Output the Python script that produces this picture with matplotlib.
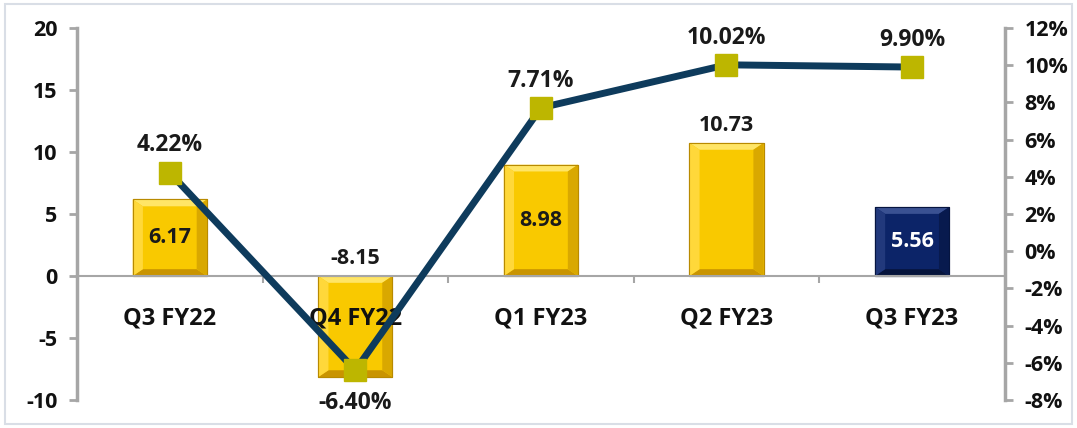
import matplotlib
matplotlib.use('Agg')
import matplotlib.pyplot as plt
from matplotlib.patches import Rectangle, Polygon

plt.rcParams['font.family'] = ['Open Sans', 'DejaVu Sans']
plt.rcParams['font.weight'] = 'bold'
plt.rcParams['axes.unicode_minus'] = False

# data
quarters = ['Q3 FY22', 'Q4 FY22', 'Q1 FY23', 'Q2 FY23', 'Q3 FY23']
profit = [6.17, -8.15, 8.98, 10.73, 5.56]
margin = [4.22, -6.40, 7.71, 10.02, 9.90]
bar_kind = ['gold', 'gold', 'gold', 'gold', 'navy']
left_ticks = [-10, -5, 0, 5, 10, 15, 20]
right_ticks = [-8, -6, -4, -2, 0, 2, 4, 6, 8, 10, 12]

GOLD = dict(face='#F9C900', top='#FFE566', left='#FFD83A', right='#D9A800', bottom='#C99400', edge='#B88A00')
NAVY = dict(face='#0C2468', top='#3A5192', left='#22397C', right='#081A4E', bottom='#06143C', edge='#061540')

fig = plt.figure(figsize=(10.77, 4.28), dpi=100)
ax = fig.add_axes([0.0715, 0.0654, 0.8615, 0.8692])
ax2 = ax.twinx()

x = list(range(len(quarters)))
w = 0.40
dx = 0.055   # bevel width in x units
dy = 0.55    # bevel height in y units

for xi, v, kind in zip(x, profit, bar_kind):
    c = GOLD if kind == 'gold' else NAVY
    x0, x1 = xi - w / 2, xi + w / 2
    y0, y1 = min(0, v), max(0, v)
    ax.add_patch(Rectangle((x0, y0), w, y1 - y0, facecolor=c['face'], edgecolor=c['edge'], lw=0.8, zorder=2))
    # bevel
    ax.add_patch(Polygon([(x0, y1), (x1, y1), (x1 - dx, y1 - dy), (x0 + dx, y1 - dy)], facecolor=c['top'], lw=0, zorder=2))
    ax.add_patch(Polygon([(x0, y0), (x1, y0), (x1 - dx, y0 + dy), (x0 + dx, y0 + dy)], facecolor=c['bottom'], lw=0, zorder=2))
    ax.add_patch(Polygon([(x0, y0), (x0, y1), (x0 + dx, y1 - dy), (x0 + dx, y0 + dy)], facecolor=c['left'], lw=0, zorder=2))
    ax.add_patch(Polygon([(x1, y0), (x1, y1), (x1 - dx, y1 - dy), (x1 - dx, y0 + dy)], facecolor=c['right'], lw=0, zorder=2))
    ax.add_patch(Rectangle((x0, y0), w, y1 - y0, facecolor='none', edgecolor=c['edge'], lw=0.8, zorder=2))

# bar labels
lbl = dict(fontsize=15.5, fontweight='bold', zorder=3)
for xi, v, kind in zip(x, profit, bar_kind):
    if kind == 'navy':
        ax.text(xi, v / 2, f'{v:.2f}', ha='center', va='center', color='white', **lbl)
    elif v < 0:
        ax.annotate(f'{v:.2f}', (xi, 0), xytext=(0, 5), textcoords='offset points', ha='center', va='bottom',
                    color='#1a1a1a', **lbl)
    elif v > 10:
        ax.annotate(f'{v:.2f}', (xi, v), xytext=(0, 5), textcoords='offset points', ha='center', va='bottom',
                    color='#1a1a1a', **lbl)
    else:
        ax.text(xi, v / 2, f'{v:.2f}', ha='center', va='center', color='#1a1a1a', **lbl)

# category labels
for xi, q in zip(x, quarters):
    ax.text(xi, -3.4, q, ha='center', va='center', fontsize=17, fontweight='bold', color='#111111', zorder=3)

ax.set_xlim(-0.5, len(quarters) - 0.5)
ax.set_ylim(-10, 20)
ax.set_yticks(left_ticks, [str(t) for t in left_ticks])
ax.set_xticks([i + 0.5 for i in x[:-1]])
ax.set_xticklabels([])
ax.spines['bottom'].set_position(('data', 0))
ax.spines['top'].set_visible(False)
ax.spines['right'].set_visible(False)
for s in ['left', 'bottom']:
    ax.spines[s].set_color('#A6A6A6')
ax.spines['left'].set_linewidth(2.5)
ax.spines['bottom'].set_linewidth(1.5)
ax.tick_params(axis='y', colors='#A6A6A6', labelcolor='#111111', length=6, width=2, pad=8, labelsize=15.5)
ax.tick_params(axis='x', colors='#A6A6A6', length=5, width=1.5)

# margin line
ax2.plot(x, margin, color='#0E3B5C', lw=5, marker='s', markersize=16, markerfacecolor='#BDB600',
         markeredgecolor='#BDB600', zorder=4, solid_joinstyle='miter')
pl = dict(fontsize=16.5, fontweight='bold', color='#1a1a1a')
for xi, m in zip(x, margin):
    if m < 0:
        ax2.annotate(f'{m:.2f}%', (xi, m), xytext=(0, -15), textcoords='offset points', ha='center', va='top', **pl)
    else:
        ax2.annotate(f'{m:.2f}%', (xi, m), xytext=(0, 11), textcoords='offset points', ha='center', va='bottom', **pl)

ax2.set_ylim(-8, 12)
ax2.set_yticks(right_ticks, [f'{t}%' for t in right_ticks])
for s in ['left', 'top', 'bottom']:
    ax2.spines[s].set_visible(False)
ax2.spines['right'].set_color('#A6A6A6')
ax2.spines['right'].set_linewidth(2.5)
ax2.tick_params(axis='y', colors='#A6A6A6', labelcolor='#111111', length=6, width=2, pad=8, labelsize=15.5)

# outer frame
fig.patches.append(Rectangle((0.005, 0.01), 0.99, 0.98, transform=fig.transFigure, fill=False,
                             edgecolor='#D9DEE6', lw=1.5))

fig.savefig('out.png', dpi=100)
